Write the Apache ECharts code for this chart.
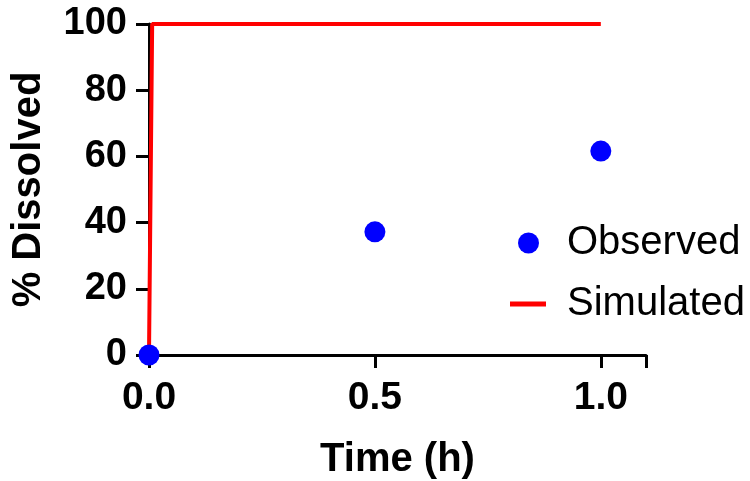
<!DOCTYPE html>
<html>
<head>
<meta charset="utf-8">
<script src="https://cdn.jsdelivr.net/npm/echarts@6/dist/echarts.min.js"></script>
<style>
  html, body { margin: 0; padding: 0; background: #fff; }
  #chart { width: 750px; height: 481px; }
</style>
</head>
<body>
<div id="chart"></div>
<script>
  // observed dissolution points [time h, % dissolved]
  const observedTime = [0, 0.5, 1.0];
  const observedPct = [0, 37.2, 61.6];
  // simulated profile
  const simulatedTime = [0, 0.007, 1.0];
  const simulatedPct = [0, 100, 100];
  const xTicks = [0, 0.5, 1.0];
  const yTicks = [0, 20, 40, 60, 80, 100];

  const font = 'Arial, "Liberation Sans", sans-serif';
  const chart = echarts.init(document.getElementById('chart'));

  chart.setOption({
    animation: false,
    grid: { left: 149, right: 104, top: 24, bottom: 126, containLabel: false, outerBoundsMode: 'none' },
    xAxis: {
      type: 'value',
      min: 0,
      max: 1.1,
      interval: 0.5,
      name: 'Time (h)',
      nameLocation: 'middle',
      nameGap: 85,
      nameTextStyle: { fontFamily: font, fontWeight: 'bold', fontSize: 40, color: '#000' },
      axisLine: { show: true, onZero: false, lineStyle: { color: '#000', width: 3 } },
      axisTick: { show: true, length: 13, lineStyle: { color: '#000', width: 3 } },
      axisLabel: {
        margin: 24,
        fontFamily: font, fontWeight: 'bold', fontSize: 39, color: '#000',
        formatter: v => xTicks.indexOf(v) >= 0 ? v.toFixed(1) : ''
      },
      splitLine: { show: false }
    },
    yAxis: {
      type: 'value',
      min: 0,
      max: 100,
      interval: 20,
      name: '% Dissolved',
      nameLocation: 'middle',
      nameGap: 100,
      nameTextStyle: { fontFamily: font, fontWeight: 'bold', fontSize: 40, color: '#000' },
      axisLine: { show: true, onZero: false, lineStyle: { color: '#000', width: 3 } },
      axisTick: { show: true, length: 13, lineStyle: { color: '#000', width: 3 } },
      axisLabel: {
        margin: 22,
        fontFamily: font, fontWeight: 'bold', fontSize: 38, color: '#000',
        formatter: v => yTicks.indexOf(v) >= 0 ? String(v) : ''
      },
      splitLine: { show: false }
    },
    legend: [
      {
        data: [{ name: 'Observed', icon: 'circle', itemStyle: { color: '#0000ff', opacity: 1 } }],
        left: 518,
        top: 223,
        itemWidth: 21,
        itemHeight: 21,
        padding: 0,
        textStyle: { fontFamily: font, fontSize: 40, color: '#000', padding: [0, 0, 0, 23] }
      },
      {
        data: [{ name: 'Simulated', icon: 'rect' }],
        left: 510,
        top: 284,
        itemWidth: 36,
        itemHeight: 5,
        padding: 0,
        textStyle: { fontFamily: font, fontSize: 40, color: '#000', padding: [0, 0, 0, 16] }
      }
    ],
    series: [
      {
        name: 'Simulated',
        type: 'line',
        data: simulatedTime.map((t, i) => [t, simulatedPct[i]]),
        showSymbol: false,
        symbol: 'none',
        color: '#ff0000',
        lineStyle: { color: '#ff0000', width: 4 },
        z: 2
      },
      {
        name: 'Observed',
        type: 'scatter',
        data: observedTime.map((t, i) => [t, observedPct[i]]),
        symbol: 'circle',
        symbolSize: 21,
        color: '#0000ff',
        itemStyle: { color: '#0000ff', opacity: 1 },
        z: 3
      }
    ]
  });
</script>
</body>
</html>
